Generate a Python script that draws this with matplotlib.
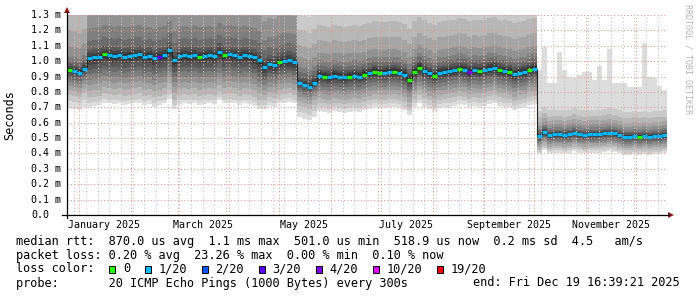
import matplotlib
matplotlib.use('Agg')
import matplotlib.pyplot as plt
import matplotlib.dates as mdates
from matplotlib.patches import Rectangle, Polygon
from matplotlib.lines import Line2D
import matplotlib.transforms as mtransforms
import numpy as np
from datetime import datetime, timedelta

# ---------------- data ----------------
END = datetime(2025, 12, 19, 16, 39, 21)
SPAN_DAYS = 360
STEP_DAYS = 3

# median rtt (ms), one value per 3-day step
median_ms = [
    0.940, 0.935, 0.925, 0.950,
    1.020, 1.025, 1.030, 1.045, 1.040, 1.035,
    1.040, 1.030, 1.035, 1.040, 1.045, 1.030, 1.035, 1.020, 1.030, 1.040,
    1.070, 1.005, 1.035, 1.040, 1.035, 1.040, 1.030, 1.035, 1.040, 1.035,
    1.060, 1.040, 1.045, 1.040, 1.030, 1.040, 1.035, 1.025, 1.005, 0.960,
    0.980, 0.975, 0.995, 1.000, 1.005, 0.995, 0.855, 0.845, 0.835, 0.860,
    0.905, 0.900, 0.895, 0.905, 0.900, 0.895, 0.900, 0.905, 0.900, 0.910,
    0.920, 0.930, 0.925, 0.925, 0.930, 0.930, 0.925, 0.910, 0.880, 0.930,
    0.955, 0.935, 0.920, 0.905, 0.925, 0.930, 0.935, 0.940, 0.950, 0.945,
    0.930, 0.940, 0.935, 0.940, 0.950, 0.955, 0.940, 0.935, 0.930, 0.915,
    0.925, 0.930, 0.945, 0.950, 0.515, 0.540, 0.520, 0.525, 0.525, 0.520,
    0.525, 0.535, 0.525, 0.520, 0.525, 0.525, 0.525, 0.530, 0.535, 0.530,
    0.520, 0.510, 0.510, 0.515, 0.510, 0.515, 0.510, 0.515, 0.515, 0.520,
]

# lost pings (out of 20) per step
loss_count = [
    0, 1, 1, 1,
    1, 1, 1, 0, 1, 1,
    1, 1, 1, 1, 1, 1, 1, 1, 3, 1,
    1, 1, 1, 1, 1, 1, 0, 1, 1, 1,
    1, 0, 1, 1, 1, 1, 1, 1, 1, 1,
    1, 1, 0, 1, 1, 1, 1, 1, 1, 1,
    1, 0, 1, 1, 1, 1, 0, 1, 1, 0,
    1, 0, 0, 1, 1, 0, 1, 1, 0, 0,
    0, 1, 1, 0, 1, 1, 1, 1, 0, 1,
    4, 1, 0, 1, 1, 1, 0, 1, 0, 1,
    1, 1, 0, 1, 1, 1, 1, 1, 1, 1,
    1, 1, 1, 1, 1, 1, 1, 1, 1, 1,
    1, 1, 1, 1, 0, 1, 1, 1, 1, 1,
]

# smoke: first step index of each period, and quantile offsets from median (ms)
period_start = [0, 4, 39, 46, 50, 94]
smoke_below = [
    [-0.245, -0.200, -0.160, -0.130, -0.100, -0.075, -0.055, -0.035, -0.020, -0.010],
    [-0.315, -0.290, -0.255, -0.215, -0.175, -0.140, -0.105, -0.075, -0.045, -0.025],
    [-0.270, -0.245, -0.215, -0.180, -0.145, -0.115, -0.085, -0.060, -0.040, -0.020],
    [-0.220, -0.185, -0.145, -0.115, -0.085, -0.065, -0.045, -0.030, -0.015, -0.005],
    [-0.230, -0.205, -0.175, -0.145, -0.115, -0.090, -0.065, -0.045, -0.030, -0.018],
    [-0.120, -0.105, -0.090, -0.075, -0.060, -0.048, -0.035, -0.025, -0.017, -0.010],
]
smoke_above = [
    [1.000, 0.600, 0.400, 0.260, 0.160, 0.090, 0.060, 0.040, 0.025, 0.015],
    [2.000, 1.500, 1.000, 0.600, 0.400, 0.190, 0.110, 0.055, 0.030, 0.015],
    [2.000, 1.500, 0.900, 0.500, 0.300, 0.180, 0.110, 0.060, 0.035, 0.015],
    [0.650, 0.450, 0.350, 0.250, 0.170, 0.110, 0.075, 0.045, 0.025, 0.010],
    [1.000, 0.600, 0.330, 0.230, 0.150, 0.100, 0.070, 0.045, 0.030, 0.018],
    [0.330, 0.160, 0.120, 0.090, 0.065, 0.045, 0.030, 0.020, 0.013, 0.007],
]
# highest ping (ms) during the last period (Oct-Dec), one per step
oct_max_ms = [0.94, 1.09, 0.86, 0.86, 1.06, 0.94, 0.90, 0.89, 0.91, 0.93,
              0.93, 0.88, 0.97, 0.88, 1.08, 0.86, 0.86, 0.86, 0.83, 0.83,
              0.83, 1.12, 0.89, 0.89, 0.84, 0.81]

month_labels = ["January 2025", "March 2025", "May 2025", "July 2025",
                "September 2025", "November 2025"]
month_label_dates = [datetime(2025, m, 16) for m in (1, 3, 5, 7, 9, 11)]
ytick_vals = [round(0.1 * k, 1) for k in range(14)]

loss_keys = [0, 1, 2, 3, 4, 10, 19]
loss_names = ["0", "1/20", "2/20", "3/20", "4/20", "10/20", "19/20"]
loss_colors = ["#26ff00", "#00b8ff", "#0059ff", "#5e00ff", "#7e00ff", "#dd00ff", "#ff0000"]
smoke_grays = ['#dddddd', '#cacaca', '#b7b7b7', '#a4a4a4', '#919191',
               '#7e7e7e', '#6b6b6b', '#585858', '#454545', '#323232']

legend_lines = [
    "median rtt:  870.0 us avg  1.1 ms max  501.0 us min  518.9 us now  0.2 ms sd  4.5   am/s",
    "packet loss: 0.20 % avg  23.26 % max  0.00 % min  0.10 % now",
    None,
    "probe:       20 ICMP Echo Pings (1000 Bytes) every 300s",
]
end_text = "end: Fri Dec 19 16:39:21 2025"

# ---------------- figure ----------------
W, H = 697, 297
MONO = 'DejaVu Sans Mono'
fig = plt.figure(figsize=(W / 100, H / 100), dpi=100)
fig.patch.set_facecolor('white')
L, R, T, B = 67, 667, 15, 215
ax = fig.add_axes([L / W, 1 - B / H, (R - L) / W, (B - T) / H])
ax.set_facecolor('white')

START = END - timedelta(days=SPAN_DAYS)
n = len(median_ms)
edges = [START + timedelta(days=STEP_DAYS * k) for k in range(n + 1)]
xe = mdates.date2num(edges)
med = np.array(median_ms)

per = np.zeros(n, dtype=int)
for p, s in enumerate(period_start):
    per[s:] = p
below = np.array(smoke_below)[per]   # n x 10
above = np.array(smoke_above)[per]

for k in range(10):
    lo = med + below[:, k]
    hi = med + above[:, k]
    if k == 0:
        s = period_start[-1]
        hi[s:] = np.array(oct_max_ms)
    lo = np.append(lo, lo[-1])
    hi = np.append(hi, hi[-1])
    ax.fill_between(xe, lo, hi, step='post', color=smoke_grays[k], lw=0, zorder=1)

# median line
ax.step(xe, np.append(med, med[-1]), where='post', color='#202020', lw=0.8, zorder=3.5)
col = [loss_colors[loss_keys.index(c)] for c in loss_count]
ax.hlines(med, xe[:-1], xe[1:], colors=col, lw=2.3, zorder=4)

ax.set_xlim(xe[0], xe[-1])
ax.set_ylim(0, 1.3)
ax.xaxis.set_major_locator(mdates.MonthLocator())
ax.xaxis.set_minor_locator(mdates.WeekdayLocator(byweekday=mdates.SU))
ax.set_yticks(ytick_vals)
ax.set_axisbelow(False)
ax.grid(which='minor', axis='x', color='#c4c4c4', lw=0.8, linestyle=(0, (1, 2)), zorder=2)
ax.grid(which='major', axis='both', color='#e49a9a', lw=0.8, linestyle=(0, (1, 2)), zorder=2)
ax.tick_params(which='both', length=0, labelbottom=False, labelleft=False)
for sp in ax.spines.values():
    sp.set_visible(False)

# y tick labels
ytr = mtransforms.blended_transform_factory(fig.transFigure, ax.transData)
for v in ytick_vals:
    lab = "0.0" if v == 0 else f"{v:.1f} m"
    fig.text(31 / W, v, lab, transform=ytr, ha='left', va='center',
             family=MONO, fontsize=7.2, color='black')

# month labels
xtr = mtransforms.blended_transform_factory(ax.transData, fig.transFigure)
for d, lab in zip(month_label_dates, month_labels):
    fig.text(mdates.date2num(d), 1 - 225 / H, lab, transform=xtr, ha='center',
             va='center', family=MONO, fontsize=7.2, color='black')

def fx(x):
    return x / W

def fy(y):
    return 1 - y / H

# axis lines and arrows
fig.add_artist(Line2D([fx(62), fx(669)], [fy(215), fy(215)], color='black', lw=0.9))
fig.add_artist(Line2D([fx(67), fx(67)], [fy(218), fy(12)], color='black', lw=0.9))
fig.add_artist(Polygon([[fx(64), fy(13)], [fx(70), fy(13)], [fx(67), fy(7)]],
                       closed=True, color='#8e1b1b', lw=0))
fig.add_artist(Polygon([[fx(668), fy(212)], [fx(668), fy(218)], [fx(674), fy(215)]],
                       closed=True, color='#8e1b1b', lw=0))

# axis title and watermark
fig.text(fx(10), fy(115), "Seconds", rotation=90, ha='center', va='center',
         family=MONO, fontsize=8.5, color='black')
fig.text(fx(688), fy(4), "RRDTOOL / TOBI OETIKER", rotation=270, ha='center', va='top',
         family=MONO, fontsize=6, color='#b4b4b4')

# legend
CW = 0.60205 * 8.52 * 100 / 72
LX = 16
ys = [241, 255.5, 269, 283]
for line, y in zip(legend_lines, ys):
    if line:
        fig.text(fx(LX), fy(y), line, ha='left', va='center', family=MONO,
                 fontsize=8.52, color='black')
fig.text(fx(680), fy(283), end_text, ha='right', va='center', family=MONO,
         fontsize=8.52, color='black')
row = "loss color:  "
pos = len(row)
fig.text(fx(LX), fy(269), "loss color:", ha='left', va='center', family=MONO,
         fontsize=8.52, color='black')
for name, c in zip(loss_names, loss_colors):
    x0 = LX + pos * CW
    fig.add_artist(Rectangle((fx(x0 + 0.3), fy(272.5)), 6.5 / W, 7 / H,
                             facecolor=c, edgecolor='black', lw=0.7))
    fig.text(fx(LX + (pos + 2) * CW), fy(269), name, ha='left', va='center',
             family=MONO, fontsize=8.52, color='black')
    pos += 2 + len(name) + 2

fig.savefig('out.png', dpi=100, facecolor='white')
